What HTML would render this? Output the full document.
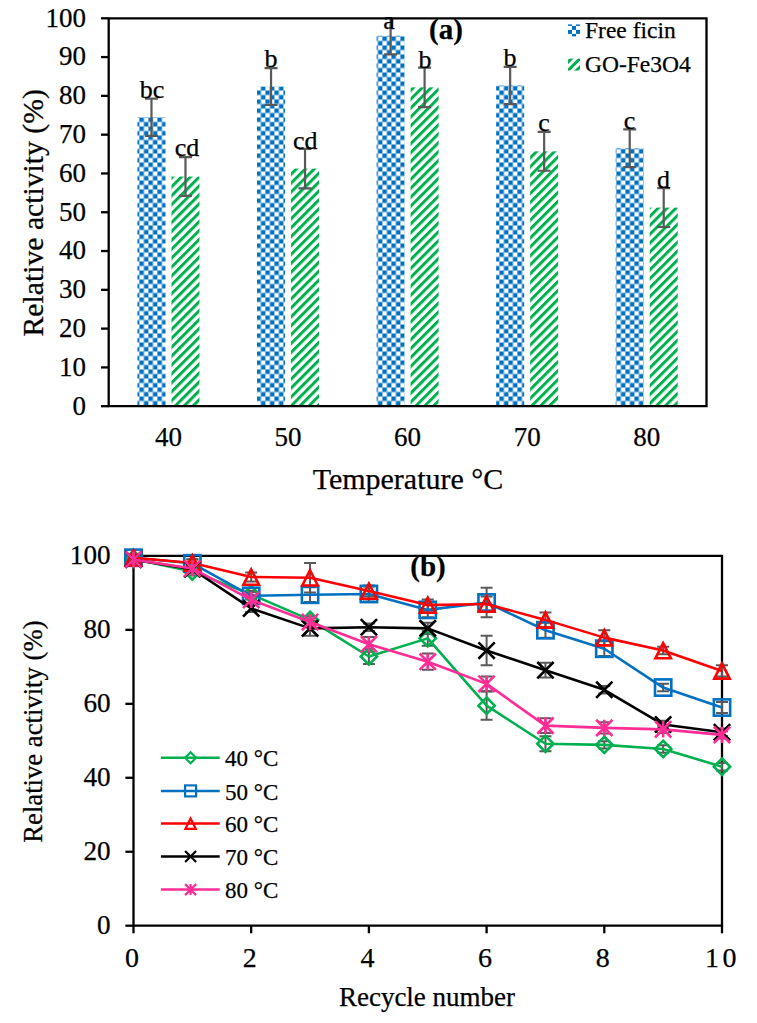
<!DOCTYPE html>
<html><head><meta charset="utf-8"><style>
html,body{margin:0;padding:0;background:#fff;}
body{width:757px;height:1023px;overflow:hidden;}
svg{display:block;font-family:"Liberation Serif", serif;}
text{stroke:#000;stroke-width:0.25px;}
</style></head><body>
<svg width="757" height="1023" viewBox="0 0 757 1023">
<defs>
<pattern id="chk" patternUnits="userSpaceOnUse" width="9" height="9" x="139.4" y="0.5">
<rect width="9" height="9" fill="#fff"/><rect x="0" y="0" width="4.5" height="4.5" fill="#0070C0"/><rect x="4.5" y="4.5" width="4.5" height="4.5" fill="#0070C0"/></pattern>
<pattern id="str" patternUnits="userSpaceOnUse" width="6.3" height="6.3" patternTransform="rotate(-45)">
<rect width="6.3" height="6.3" fill="#fff"/><rect x="0" y="0" width="6.3" height="3.0" fill="#00B050"/></pattern>
<pattern id="chkL" patternUnits="userSpaceOnUse" width="8" height="8" x="568" y="21.9">
<rect width="8" height="8" fill="#fff"/><rect width="4" height="4" fill="#0070C0"/><rect x="4" y="4" width="4" height="4" fill="#0070C0"/></pattern>
<pattern id="strL" patternUnits="userSpaceOnUse" width="6" height="6" patternTransform="rotate(-45)">
<rect width="6" height="6" fill="#fff"/><rect width="6" height="3" fill="#00B050"/></pattern>
</defs>
<rect width="757" height="1023" fill="#fff"/>
<rect x="137.48" y="117.21" width="28" height="288.99" fill="url(#chk)"/>
<rect x="171.48" y="176.56" width="28" height="229.64" fill="url(#str)"/>
<rect x="257.04" y="86.57" width="28" height="319.63" fill="url(#chk)"/>
<rect x="291.04" y="168.61" width="28" height="237.59" fill="url(#str)"/>
<rect x="376.60" y="35.76" width="28" height="370.44" fill="url(#chk)"/>
<rect x="410.60" y="87.35" width="28" height="318.85" fill="url(#str)"/>
<rect x="496.16" y="85.41" width="28" height="320.79" fill="url(#chk)"/>
<rect x="530.16" y="151.35" width="28" height="254.85" fill="url(#str)"/>
<rect x="615.72" y="148.25" width="28" height="257.95" fill="url(#chk)"/>
<rect x="649.72" y="207.60" width="28" height="198.60" fill="url(#str)"/>
<path d="M151.48 98.60V135.83M144.98 98.60H157.98M144.98 135.83H157.98" stroke="#595959" stroke-width="2.2" fill="none"/>
<path d="M185.48 157.17V195.96M178.98 157.17H191.98M178.98 195.96H191.98" stroke="#595959" stroke-width="2.2" fill="none"/>
<path d="M271.04 68.15V105.00M264.54 68.15H277.54M264.54 105.00H277.54" stroke="#595959" stroke-width="2.2" fill="none"/>
<path d="M305.04 148.83V188.39M298.54 148.83H311.54M298.54 188.39H311.54" stroke="#595959" stroke-width="2.2" fill="none"/>
<path d="M390.60 18.30V54.37M384.10 54.37H397.10" stroke="#595959" stroke-width="2.2" fill="none"/>
<path d="M424.60 67.56V107.13M418.10 67.56H431.10M418.10 107.13H431.10" stroke="#595959" stroke-width="2.2" fill="none"/>
<path d="M510.16 66.79V104.03M503.66 66.79H516.66M503.66 104.03H516.66" stroke="#595959" stroke-width="2.2" fill="none"/>
<path d="M544.16 131.95V170.74M537.66 131.95H550.66M537.66 170.74H550.66" stroke="#595959" stroke-width="2.2" fill="none"/>
<path d="M629.72 129.43V167.06M623.22 129.43H636.22M623.22 167.06H636.22" stroke="#595959" stroke-width="2.2" fill="none"/>
<path d="M663.72 188.20V226.99M657.22 188.20H670.22M657.22 226.99H670.22" stroke="#595959" stroke-width="2.2" fill="none"/>
<path d="M108.7 18.3H706.5V406.2H108.7Z" fill="none" stroke="#000" stroke-width="2.3"/>
<path d="M101 406.20H108.7" stroke="#000" stroke-width="2.3"/>
<text x="86" y="414.60" text-anchor="end" font-size="27">0</text>
<path d="M101 367.41H108.7" stroke="#000" stroke-width="2.3"/>
<text x="86" y="375.81" text-anchor="end" font-size="27">10</text>
<path d="M101 328.62H108.7" stroke="#000" stroke-width="2.3"/>
<text x="86" y="337.02" text-anchor="end" font-size="27">20</text>
<path d="M101 289.83H108.7" stroke="#000" stroke-width="2.3"/>
<text x="86" y="298.23" text-anchor="end" font-size="27">30</text>
<path d="M101 251.04H108.7" stroke="#000" stroke-width="2.3"/>
<text x="86" y="259.44" text-anchor="end" font-size="27">40</text>
<path d="M101 212.25H108.7" stroke="#000" stroke-width="2.3"/>
<text x="86" y="220.65" text-anchor="end" font-size="27">50</text>
<path d="M101 173.46H108.7" stroke="#000" stroke-width="2.3"/>
<text x="86" y="181.86" text-anchor="end" font-size="27">60</text>
<path d="M101 134.67H108.7" stroke="#000" stroke-width="2.3"/>
<text x="86" y="143.07" text-anchor="end" font-size="27">70</text>
<path d="M101 95.88H108.7" stroke="#000" stroke-width="2.3"/>
<text x="86" y="104.28" text-anchor="end" font-size="27">80</text>
<path d="M101 57.09H108.7" stroke="#000" stroke-width="2.3"/>
<text x="86" y="65.49" text-anchor="end" font-size="27">90</text>
<path d="M101 18.30H108.7" stroke="#000" stroke-width="2.3"/>
<text x="86" y="26.70" text-anchor="end" font-size="27">100</text>
<text x="168.48" y="446" text-anchor="middle" font-size="27">40</text>
<text x="288.04" y="446" text-anchor="middle" font-size="27">50</text>
<text x="407.60" y="446" text-anchor="middle" font-size="27">60</text>
<text x="527.16" y="446" text-anchor="middle" font-size="27">70</text>
<text x="646.72" y="446" text-anchor="middle" font-size="27">80</text>
<text x="152" y="98.2" text-anchor="middle" font-size="26">bc</text>
<text x="187" y="155.9" text-anchor="middle" font-size="26">cd</text>
<text x="270.9" y="67.4" text-anchor="middle" font-size="26">b</text>
<text x="305.2" y="148.8" text-anchor="middle" font-size="26">cd</text>
<text x="389" y="28.9" text-anchor="middle" font-size="26">a</text>
<text x="425" y="68" text-anchor="middle" font-size="26">b</text>
<text x="509.9" y="65.8" text-anchor="middle" font-size="26">b</text>
<text x="544" y="131.4" text-anchor="middle" font-size="26">c</text>
<text x="629.5" y="128.9" text-anchor="middle" font-size="26">c</text>
<text x="663.5" y="188.3" text-anchor="middle" font-size="26">d</text>
<text x="446" y="38.5" text-anchor="middle" font-size="29" font-weight="bold">(a)</text>
<rect x="568" y="24.4" width="12" height="12" fill="url(#chkL)"/>
<rect x="568" y="58.6" width="12" height="12" fill="url(#strL)"/>
<text x="585" y="38.1" font-size="23.5">Free ficin</text>
<text x="585" y="71.7" font-size="23.5">GO-Fe3O4</text>
<text x="408" y="488.6" text-anchor="middle" font-size="30">Temperature °C</text>
<text transform="translate(42.9 212.8) rotate(-90)" text-anchor="middle" font-size="29.7">Relative activity (%)</text>
<path d="M133.5 555.9H722.0V925.7H133.5Z" fill="none" stroke="#000" stroke-width="2.3"/>
<path d="M125.4 925.70H133.5" stroke="#000" stroke-width="2.3"/>
<text x="110.6" y="934.20" text-anchor="end" font-size="27.2">0</text>
<path d="M125.4 851.74H133.5" stroke="#000" stroke-width="2.3"/>
<text x="110.6" y="860.24" text-anchor="end" font-size="27.2">20</text>
<path d="M125.4 777.78H133.5" stroke="#000" stroke-width="2.3"/>
<text x="110.6" y="786.28" text-anchor="end" font-size="27.2">40</text>
<path d="M125.4 703.82H133.5" stroke="#000" stroke-width="2.3"/>
<text x="110.6" y="712.32" text-anchor="end" font-size="27.2">60</text>
<path d="M125.4 629.86H133.5" stroke="#000" stroke-width="2.3"/>
<text x="110.6" y="638.36" text-anchor="end" font-size="27.2">80</text>
<path d="M125.4 555.90H133.5" stroke="#000" stroke-width="2.3"/>
<text x="110.6" y="564.40" text-anchor="end" font-size="27.2">100</text>
<path d="M133.50 925.7V933.3" stroke="#000" stroke-width="2.3"/>
<text x="132.00" y="967" text-anchor="middle" font-size="28">0</text>
<path d="M251.20 925.7V933.3" stroke="#000" stroke-width="2.3"/>
<text x="249.70" y="967" text-anchor="middle" font-size="28">2</text>
<path d="M368.90 925.7V933.3" stroke="#000" stroke-width="2.3"/>
<text x="367.40" y="967" text-anchor="middle" font-size="28">4</text>
<path d="M486.60 925.7V933.3" stroke="#000" stroke-width="2.3"/>
<text x="485.10" y="967" text-anchor="middle" font-size="28">6</text>
<path d="M604.30 925.7V933.3" stroke="#000" stroke-width="2.3"/>
<text x="602.80" y="967" text-anchor="middle" font-size="28">8</text>
<path d="M722.00 925.7V933.3" stroke="#000" stroke-width="2.3"/>
<text x="705.00" y="967" font-size="28" letter-spacing="3.6">10</text>
<path d="M133.50 557.01V560.71M127.50 557.01H139.50M127.50 560.71H139.50" stroke="#595959" stroke-width="2" fill="none"/>
<path d="M192.35 567.73V575.13M186.35 567.73H198.35M186.35 575.13H198.35" stroke="#595959" stroke-width="2" fill="none"/>
<path d="M251.20 590.66V598.06M245.20 590.66H257.20M245.20 598.06H257.20" stroke="#595959" stroke-width="2" fill="none"/>
<path d="M310.05 616.18V623.57M304.05 616.18H316.05M304.05 623.57H316.05" stroke="#595959" stroke-width="2" fill="none"/>
<path d="M368.90 649.09V663.88M362.90 649.09H374.90M362.90 663.88H374.90" stroke="#595959" stroke-width="2" fill="none"/>
<path d="M427.75 630.97V645.76M421.75 630.97H433.75M421.75 645.76H433.75" stroke="#595959" stroke-width="2" fill="none"/>
<path d="M486.60 691.62V719.72M480.60 691.62H492.60M480.60 719.72H492.60" stroke="#595959" stroke-width="2" fill="none"/>
<path d="M545.45 736.36V751.15M539.45 736.36H551.45M539.45 751.15H551.45" stroke="#595959" stroke-width="2" fill="none"/>
<path d="M604.30 741.17V748.57M598.30 741.17H610.30M598.30 748.57H610.30" stroke="#595959" stroke-width="2" fill="none"/>
<path d="M663.15 745.24V752.63M657.15 745.24H669.15M657.15 752.63H669.15" stroke="#595959" stroke-width="2" fill="none"/>
<path d="M722.00 762.99V770.38M716.00 762.99H728.00M716.00 770.38H728.00" stroke="#595959" stroke-width="2" fill="none"/>
<path d="M133.50 555.90V559.60M127.50 555.90H139.50M127.50 559.60H139.50" stroke="#595959" stroke-width="2" fill="none"/>
<path d="M192.35 559.60V566.99M186.35 559.60H198.35M186.35 566.99H198.35" stroke="#595959" stroke-width="2" fill="none"/>
<path d="M251.20 592.14V599.54M245.20 592.14H257.20M245.20 599.54H257.20" stroke="#595959" stroke-width="2" fill="none"/>
<path d="M310.05 587.33V602.12M304.05 587.33H316.05M304.05 602.12H316.05" stroke="#595959" stroke-width="2" fill="none"/>
<path d="M368.90 586.59V601.39M362.90 586.59H374.90M362.90 601.39H374.90" stroke="#595959" stroke-width="2" fill="none"/>
<path d="M427.75 602.49V617.29M421.75 602.49H433.75M421.75 617.29H433.75" stroke="#595959" stroke-width="2" fill="none"/>
<path d="M486.60 587.70V617.29M480.60 587.70H492.60M480.60 617.29H492.60" stroke="#595959" stroke-width="2" fill="none"/>
<path d="M545.45 622.83V637.63M539.45 622.83H551.45M539.45 637.63H551.45" stroke="#595959" stroke-width="2" fill="none"/>
<path d="M604.30 641.32V656.12M598.30 641.32H610.30M598.30 656.12H610.30" stroke="#595959" stroke-width="2" fill="none"/>
<path d="M663.15 683.85V691.25M657.15 683.85H669.15M657.15 691.25H669.15" stroke="#595959" stroke-width="2" fill="none"/>
<path d="M722.00 701.97V713.07M716.00 701.97H728.00M716.00 713.07H728.00" stroke="#595959" stroke-width="2" fill="none"/>
<path d="M133.50 555.90V559.60M127.50 555.90H139.50M127.50 559.60H139.50" stroke="#595959" stroke-width="2" fill="none"/>
<path d="M192.35 559.23V566.62M186.35 559.23H198.35M186.35 566.62H198.35" stroke="#595959" stroke-width="2" fill="none"/>
<path d="M251.20 572.54V581.42M245.20 572.54H257.20M245.20 581.42H257.20" stroke="#595959" stroke-width="2" fill="none"/>
<path d="M310.05 562.93V592.51M304.05 562.93H316.05M304.05 592.51H316.05" stroke="#595959" stroke-width="2" fill="none"/>
<path d="M368.90 585.48V596.58M362.90 585.48H374.90M362.90 596.58H374.90" stroke="#595959" stroke-width="2" fill="none"/>
<path d="M427.75 599.54V610.63M421.75 599.54H433.75M421.75 610.63H433.75" stroke="#595959" stroke-width="2" fill="none"/>
<path d="M486.60 596.58V611.37M480.60 596.58H492.60M480.60 611.37H492.60" stroke="#595959" stroke-width="2" fill="none"/>
<path d="M545.45 612.48V627.27M539.45 612.48H551.45M539.45 627.27H551.45" stroke="#595959" stroke-width="2" fill="none"/>
<path d="M604.30 630.23V645.02M598.30 630.23H610.30M598.30 645.02H610.30" stroke="#595959" stroke-width="2" fill="none"/>
<path d="M663.15 646.87V654.27M657.15 646.87H669.15M657.15 654.27H669.15" stroke="#595959" stroke-width="2" fill="none"/>
<path d="M722.00 665.36V676.45M716.00 665.36H728.00M716.00 676.45H728.00" stroke="#595959" stroke-width="2" fill="none"/>
<path d="M133.50 557.75V561.45M127.50 557.75H139.50M127.50 561.45H139.50" stroke="#595959" stroke-width="2" fill="none"/>
<path d="M192.35 565.51V572.91M186.35 565.51H198.35M186.35 572.91H198.35" stroke="#595959" stroke-width="2" fill="none"/>
<path d="M251.20 604.71V612.11M245.20 604.71H257.20M245.20 612.11H257.20" stroke="#595959" stroke-width="2" fill="none"/>
<path d="M310.05 620.98V635.78M304.05 620.98H316.05M304.05 635.78H316.05" stroke="#595959" stroke-width="2" fill="none"/>
<path d="M368.90 623.57V630.97M362.90 623.57H374.90M362.90 630.97H374.90" stroke="#595959" stroke-width="2" fill="none"/>
<path d="M427.75 622.83V633.93M421.75 622.83H433.75M421.75 633.93H433.75" stroke="#595959" stroke-width="2" fill="none"/>
<path d="M486.60 635.78V665.36M480.60 635.78H492.60M480.60 665.36H492.60" stroke="#595959" stroke-width="2" fill="none"/>
<path d="M545.45 662.77V677.56M539.45 662.77H551.45M539.45 677.56H551.45" stroke="#595959" stroke-width="2" fill="none"/>
<path d="M604.30 686.07V693.47M598.30 686.07H610.30M598.30 693.47H610.30" stroke="#595959" stroke-width="2" fill="none"/>
<path d="M663.15 720.83V728.23M657.15 720.83H669.15M657.15 728.23H669.15" stroke="#595959" stroke-width="2" fill="none"/>
<path d="M722.00 728.60V735.99M716.00 728.60H728.00M716.00 735.99H728.00" stroke="#595959" stroke-width="2" fill="none"/>
<path d="M133.50 557.75V561.45M127.50 557.75H139.50M127.50 561.45H139.50" stroke="#595959" stroke-width="2" fill="none"/>
<path d="M192.35 564.78V572.17M186.35 564.78H198.35M186.35 572.17H198.35" stroke="#595959" stroke-width="2" fill="none"/>
<path d="M251.20 596.21V603.60M245.20 596.21H257.20M245.20 603.60H257.20" stroke="#595959" stroke-width="2" fill="none"/>
<path d="M310.05 618.40V625.79M304.05 618.40H316.05M304.05 625.79H316.05" stroke="#595959" stroke-width="2" fill="none"/>
<path d="M368.90 636.89V651.68M362.90 636.89H374.90M362.90 651.68H374.90" stroke="#595959" stroke-width="2" fill="none"/>
<path d="M427.75 653.53V669.80M421.75 653.53H433.75M421.75 669.80H433.75" stroke="#595959" stroke-width="2" fill="none"/>
<path d="M486.60 676.45V691.25M480.60 676.45H492.60M480.60 691.25H492.60" stroke="#595959" stroke-width="2" fill="none"/>
<path d="M545.45 718.24V733.03M539.45 718.24H551.45M539.45 733.03H551.45" stroke="#595959" stroke-width="2" fill="none"/>
<path d="M604.30 722.31V733.40M598.30 722.31H610.30M598.30 733.40H610.30" stroke="#595959" stroke-width="2" fill="none"/>
<path d="M663.15 725.64V733.03M657.15 725.64H669.15M657.15 733.03H669.15" stroke="#595959" stroke-width="2" fill="none"/>
<path d="M722.00 731.19V738.58M716.00 731.19H728.00M716.00 738.58H728.00" stroke="#595959" stroke-width="2" fill="none"/>
<polyline points="133.50,558.86 192.35,571.43 251.20,594.36 310.05,619.88 368.90,656.49 427.75,638.37 486.60,705.67 545.45,743.76 604.30,744.87 663.15,748.94 722.00,766.69" fill="none" stroke="#00B050" stroke-width="2.6" stroke-linejoin="round"/>
<path d="M133.5 550.71L141.65 558.86L133.5 567.01L125.35 558.86Z" fill="none" stroke="#00B050" stroke-width="2.6"/>
<path d="M192.35 563.28L200.5 571.43L192.35 579.5799999999999L184.2 571.43Z" fill="none" stroke="#00B050" stroke-width="2.6"/>
<path d="M251.2 586.21L259.34999999999997 594.36L251.2 602.51L243.04999999999998 594.36Z" fill="none" stroke="#00B050" stroke-width="2.6"/>
<path d="M310.05 611.73L318.2 619.88L310.05 628.03L301.90000000000003 619.88Z" fill="none" stroke="#00B050" stroke-width="2.6"/>
<path d="M368.9 648.34L377.04999999999995 656.49L368.9 664.64L360.75 656.49Z" fill="none" stroke="#00B050" stroke-width="2.6"/>
<path d="M427.75 630.22L435.9 638.37L427.75 646.52L419.6 638.37Z" fill="none" stroke="#00B050" stroke-width="2.6"/>
<path d="M486.6 697.52L494.75 705.67L486.6 713.8199999999999L478.45000000000005 705.67Z" fill="none" stroke="#00B050" stroke-width="2.6"/>
<path d="M545.45 735.61L553.6 743.76L545.45 751.91L537.3000000000001 743.76Z" fill="none" stroke="#00B050" stroke-width="2.6"/>
<path d="M604.3 736.72L612.4499999999999 744.87L604.3 753.02L596.15 744.87Z" fill="none" stroke="#00B050" stroke-width="2.6"/>
<path d="M663.15 740.7900000000001L671.3 748.94L663.15 757.09L655.0 748.94Z" fill="none" stroke="#00B050" stroke-width="2.6"/>
<path d="M722.0 758.5400000000001L730.15 766.69L722.0 774.84L713.85 766.69Z" fill="none" stroke="#00B050" stroke-width="2.6"/>
<polyline points="133.50,557.75 192.35,563.30 251.20,595.84 310.05,594.73 368.90,593.99 427.75,609.89 486.60,602.49 545.45,630.23 604.30,648.72 663.15,687.55 722.00,707.52" fill="none" stroke="#0070C0" stroke-width="2.6" stroke-linejoin="round"/>
<rect x="125.35" y="549.6" width="16.3" height="16.3" fill="none" stroke="#0070C0" stroke-width="2.6"/>
<rect x="184.2" y="555.15" width="16.3" height="16.3" fill="none" stroke="#0070C0" stroke-width="2.6"/>
<rect x="243.04999999999998" y="587.69" width="16.3" height="16.3" fill="none" stroke="#0070C0" stroke-width="2.6"/>
<rect x="301.90000000000003" y="586.58" width="16.3" height="16.3" fill="none" stroke="#0070C0" stroke-width="2.6"/>
<rect x="360.75" y="585.84" width="16.3" height="16.3" fill="none" stroke="#0070C0" stroke-width="2.6"/>
<rect x="419.6" y="601.74" width="16.3" height="16.3" fill="none" stroke="#0070C0" stroke-width="2.6"/>
<rect x="478.45000000000005" y="594.34" width="16.3" height="16.3" fill="none" stroke="#0070C0" stroke-width="2.6"/>
<rect x="537.3000000000001" y="622.08" width="16.3" height="16.3" fill="none" stroke="#0070C0" stroke-width="2.6"/>
<rect x="596.15" y="640.57" width="16.3" height="16.3" fill="none" stroke="#0070C0" stroke-width="2.6"/>
<rect x="655.0" y="679.4" width="16.3" height="16.3" fill="none" stroke="#0070C0" stroke-width="2.6"/>
<rect x="713.85" y="699.37" width="16.3" height="16.3" fill="none" stroke="#0070C0" stroke-width="2.6"/>
<polyline points="133.50,557.75 192.35,562.93 251.20,576.98 310.05,577.72 368.90,591.03 427.75,605.08 486.60,603.97 545.45,619.88 604.30,637.63 663.15,650.57 722.00,670.91" fill="none" stroke="#FF0000" stroke-width="2.6" stroke-linejoin="round"/>
<path d="M133.5 550.25L141.24 565.49L125.76 565.49Z" fill="none" stroke="#FF0000" stroke-width="2.6" stroke-linejoin="miter"/>
<path d="M192.35 555.43L200.09 570.67L184.61 570.67Z" fill="none" stroke="#FF0000" stroke-width="2.6" stroke-linejoin="miter"/>
<path d="M251.2 569.48L258.94 584.72L243.46 584.72Z" fill="none" stroke="#FF0000" stroke-width="2.6" stroke-linejoin="miter"/>
<path d="M310.05 570.22L317.79 585.46L302.31 585.46Z" fill="none" stroke="#FF0000" stroke-width="2.6" stroke-linejoin="miter"/>
<path d="M368.9 583.53L376.64 598.77L361.16 598.77Z" fill="none" stroke="#FF0000" stroke-width="2.6" stroke-linejoin="miter"/>
<path d="M427.75 597.58L435.49 612.82L420.01 612.82Z" fill="none" stroke="#FF0000" stroke-width="2.6" stroke-linejoin="miter"/>
<path d="M486.6 596.47L494.34 611.71L478.86 611.71Z" fill="none" stroke="#FF0000" stroke-width="2.6" stroke-linejoin="miter"/>
<path d="M545.45 612.38L553.19 627.62L537.71 627.62Z" fill="none" stroke="#FF0000" stroke-width="2.6" stroke-linejoin="miter"/>
<path d="M604.3 630.13L612.04 645.37L596.56 645.37Z" fill="none" stroke="#FF0000" stroke-width="2.6" stroke-linejoin="miter"/>
<path d="M663.15 643.07L670.89 658.31L655.41 658.31Z" fill="none" stroke="#FF0000" stroke-width="2.6" stroke-linejoin="miter"/>
<path d="M722.0 663.41L729.74 678.65L714.26 678.65Z" fill="none" stroke="#FF0000" stroke-width="2.6" stroke-linejoin="miter"/>
<polyline points="133.50,559.60 192.35,569.21 251.20,608.41 310.05,628.38 368.90,627.27 427.75,628.38 486.60,650.57 545.45,670.17 604.30,689.77 663.15,724.53 722.00,732.29" fill="none" stroke="#000000" stroke-width="2.6" stroke-linejoin="round"/>
<path d="M125.35 551.45L141.65 567.75M141.65 551.45L125.35 567.75" stroke="#000000" stroke-width="2.6"/>
<path d="M184.2 561.0600000000001L200.5 577.36M200.5 561.0600000000001L184.2 577.36" stroke="#000000" stroke-width="2.6"/>
<path d="M243.04999999999998 600.26L259.34999999999997 616.56M259.34999999999997 600.26L243.04999999999998 616.56" stroke="#000000" stroke-width="2.6"/>
<path d="M301.90000000000003 620.23L318.2 636.53M318.2 620.23L301.90000000000003 636.53" stroke="#000000" stroke-width="2.6"/>
<path d="M360.75 619.12L377.04999999999995 635.42M377.04999999999995 619.12L360.75 635.42" stroke="#000000" stroke-width="2.6"/>
<path d="M419.6 620.23L435.9 636.53M435.9 620.23L419.6 636.53" stroke="#000000" stroke-width="2.6"/>
<path d="M478.45000000000005 642.4200000000001L494.75 658.72M494.75 642.4200000000001L478.45000000000005 658.72" stroke="#000000" stroke-width="2.6"/>
<path d="M537.3000000000001 662.02L553.6 678.3199999999999M553.6 662.02L537.3000000000001 678.3199999999999" stroke="#000000" stroke-width="2.6"/>
<path d="M596.15 681.62L612.4499999999999 697.92M612.4499999999999 681.62L596.15 697.92" stroke="#000000" stroke-width="2.6"/>
<path d="M655.0 716.38L671.3 732.68M671.3 716.38L655.0 732.68" stroke="#000000" stroke-width="2.6"/>
<path d="M713.85 724.14L730.15 740.4399999999999M730.15 724.14L713.85 740.4399999999999" stroke="#000000" stroke-width="2.6"/>
<polyline points="133.50,559.60 192.35,568.47 251.20,599.91 310.05,622.09 368.90,644.28 427.75,661.66 486.60,683.85 545.45,725.64 604.30,727.86 663.15,729.34 722.00,734.88" fill="none" stroke="#FF2D95" stroke-width="2.6" stroke-linejoin="round"/>
<path d="M125.35 551.45L141.65 567.75M141.65 551.45L125.35 567.75M133.5 551.45V567.75" stroke="#FF2D95" stroke-width="2.6"/>
<path d="M184.2 560.32L200.5 576.62M200.5 560.32L184.2 576.62M192.35 560.32V576.62" stroke="#FF2D95" stroke-width="2.6"/>
<path d="M243.04999999999998 591.76L259.34999999999997 608.06M259.34999999999997 591.76L243.04999999999998 608.06M251.2 591.76V608.06" stroke="#FF2D95" stroke-width="2.6"/>
<path d="M301.90000000000003 613.94L318.2 630.24M318.2 613.94L301.90000000000003 630.24M310.05 613.94V630.24" stroke="#FF2D95" stroke-width="2.6"/>
<path d="M360.75 636.13L377.04999999999995 652.43M377.04999999999995 636.13L360.75 652.43M368.9 636.13V652.43" stroke="#FF2D95" stroke-width="2.6"/>
<path d="M419.6 653.51L435.9 669.81M435.9 653.51L419.6 669.81M427.75 653.51V669.81" stroke="#FF2D95" stroke-width="2.6"/>
<path d="M478.45000000000005 675.7L494.75 692.0M494.75 675.7L478.45000000000005 692.0M486.6 675.7V692.0" stroke="#FF2D95" stroke-width="2.6"/>
<path d="M537.3000000000001 717.49L553.6 733.79M553.6 717.49L537.3000000000001 733.79M545.45 717.49V733.79" stroke="#FF2D95" stroke-width="2.6"/>
<path d="M596.15 719.71L612.4499999999999 736.01M612.4499999999999 719.71L596.15 736.01M604.3 719.71V736.01" stroke="#FF2D95" stroke-width="2.6"/>
<path d="M655.0 721.19L671.3 737.49M671.3 721.19L655.0 737.49M663.15 721.19V737.49" stroke="#FF2D95" stroke-width="2.6"/>
<path d="M713.85 726.73L730.15 743.03M730.15 726.73L713.85 743.03M722.0 726.73V743.03" stroke="#FF2D95" stroke-width="2.6"/>
<path d="M160.9 757.8H219.7" stroke="#00B050" stroke-width="2.5"/>
<path d="M190.6 752.3L196.1 757.8L190.6 763.3L185.1 757.8Z" fill="none" stroke="#00B050" stroke-width="2.2"/>
<text x="225" y="766.4" font-size="23">40 °C</text>
<path d="M160.9 790.9H219.7" stroke="#0070C0" stroke-width="2.5"/>
<rect x="185.1" y="785.4" width="11" height="11" fill="none" stroke="#0070C0" stroke-width="2.2"/>
<text x="225" y="799.5" font-size="23">50 °C</text>
<path d="M160.9 823.6H219.7" stroke="#FF0000" stroke-width="2.5"/>
<path d="M190.6 818.54L195.82 828.83L185.38 828.83Z" fill="none" stroke="#FF0000" stroke-width="2.2" stroke-linejoin="miter"/>
<text x="225" y="832.2" font-size="23">60 °C</text>
<path d="M160.9 856.5H219.7" stroke="#000000" stroke-width="2.5"/>
<path d="M185.1 851.0L196.1 862.0M196.1 851.0L185.1 862.0" stroke="#000000" stroke-width="2.2"/>
<text x="225" y="865.1" font-size="23">70 °C</text>
<path d="M160.9 889.6H219.7" stroke="#FF2D95" stroke-width="2.5"/>
<path d="M185.1 884.1L196.1 895.1M196.1 884.1L185.1 895.1M190.6 884.1V895.1" stroke="#FF2D95" stroke-width="2.2"/>
<text x="225" y="898.2" font-size="23">80 °C</text>
<text x="428" y="575.9" text-anchor="middle" font-size="29" font-weight="bold">(b)</text>
<text x="427" y="1006.2" text-anchor="middle" font-size="27">Recycle number</text>
<text transform="translate(42 731.6) rotate(-90)" text-anchor="middle" font-size="26.7">Relative activity (%)</text>
</svg>
</body></html>
